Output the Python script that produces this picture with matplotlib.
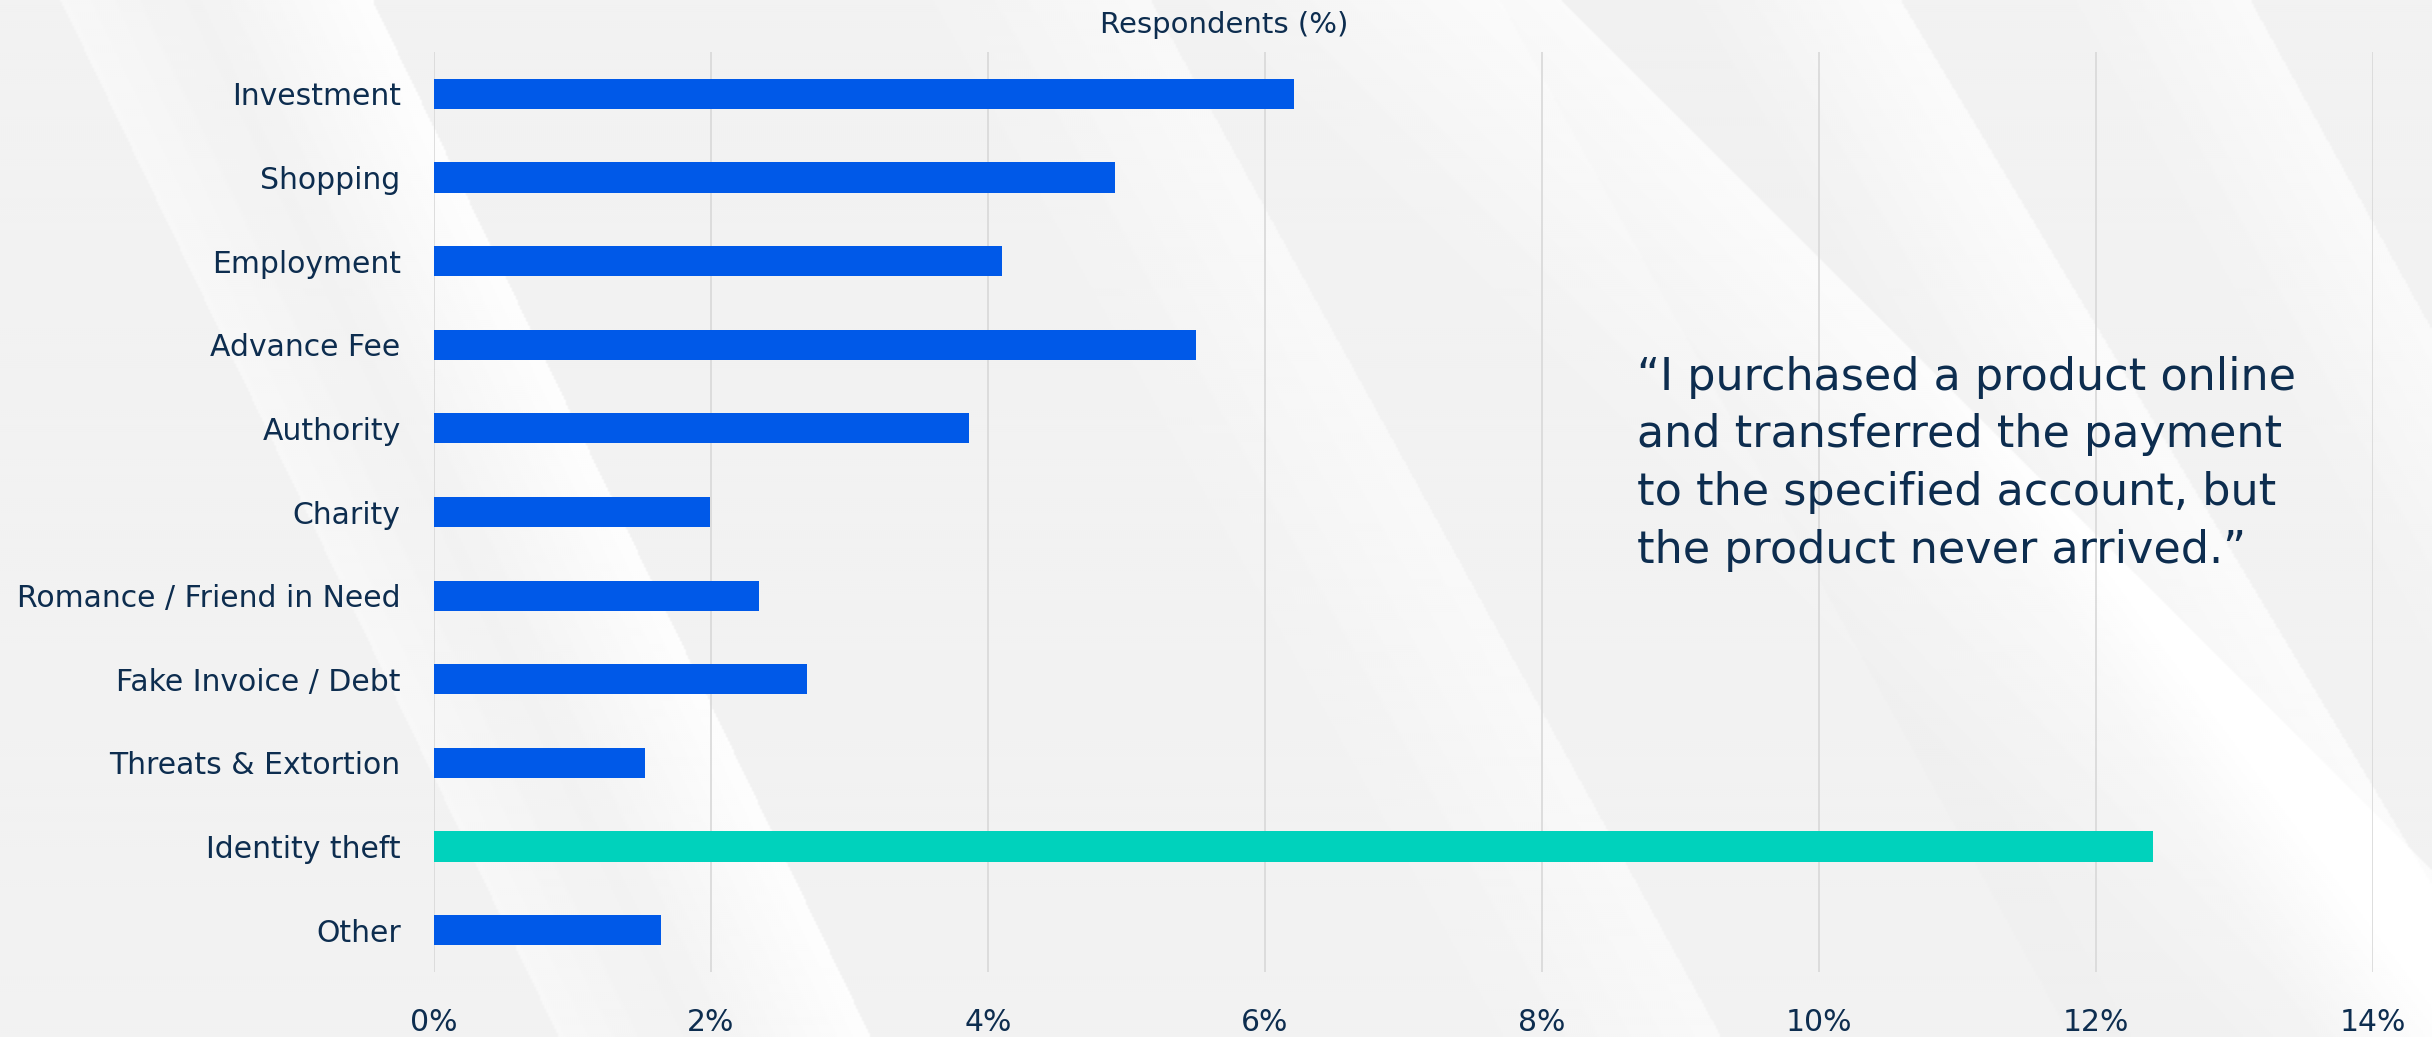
import numpy as np
import matplotlib
matplotlib.use("Agg")
import matplotlib.pyplot as plt
from matplotlib.ticker import FuncFormatter

# Scam categories reported, share of respondents (%)
categories = [
    "Investment", "Shopping", "Employment", "Advance Fee", "Authority",
    "Charity", "Romance / Friend in Need", "Fake Invoice / Debt",
    "Threats & Extortion", "Identity theft", "Other",
]
values = [6.21, 4.92, 4.10, 5.50, 3.86, 1.99, 2.35, 2.69, 1.52, 12.41, 1.64]
highlight = "Identity theft"
x_ticks = [0, 2, 4, 6, 8, 10, 12, 14]

quote_lines = [
    "\u201cI purchased a product online",
    "and transferred the payment",
    "to the specified account, but",
    "the product never arrived.\u201d",
]

TEXT = "#0d2d4f"
BLUE = "#0059e8"
TEAL = "#00d2bc"
GRID = "#d8d8d8"

plt.rcParams["font.family"] = ["DejaVu Sans"]

W, H = 2432, 1037
fig = plt.figure(figsize=(W / 100, H / 100), dpi=100)

# soft grey backdrop with diagonal light streaks
bg = fig.add_axes([0, 0, 1, 1], zorder=0)
bg.set_axis_off()
step = 2
yy, xx = np.mgrid[0:H:step, 0:W:step].astype(float)
img = np.full(xx.shape, 0.948)


def streak(ang_dx, ang_dy, x0, width, amp, sharp_right=True):
    # distance from a line through (x0, 0) heading along (dx, dy)
    d = np.hypot(ang_dx, ang_dy)
    u = ((xx - x0) * ang_dy - yy * ang_dx) / d
    if sharp_right:
        prof = np.where((u <= 0) & (u > -width), 1 + u / width, 0.0)
    else:
        prof = np.where((u >= 0) & (u < width), 1 - u / width, 0.0)
    return amp * prof


img += streak(0.48, 1, 372, 160, 0.045)
img += streak(0.48, 1, 60, 120, 0.022, sharp_right=False)
img += streak(0.55, 1, 1150, 200, 0.028)
img += streak(1.0, 1, 1560, 260, 0.04)
img += streak(0.6, 1, 1900, 180, 0.036)
img += streak(0.55, 1, 2250, 160, 0.032)
img -= streak(0.55, 1, 1500, 300, 0.008, sharp_right=False)
img = np.clip(img, 0, 1)
bg.imshow(img, cmap="gray", vmin=0, vmax=1, extent=[0, W, H, 0],
          aspect="auto", interpolation="bilinear")
bg.set_xlim(0, W)
bg.set_ylim(H, 0)

ax = fig.add_axes([434 / W, 1 - 972 / H, (2373 - 434) / W, (972 - 52) / H], zorder=1)
ax.patch.set_alpha(0)

y = np.arange(len(categories))
colors = [TEAL if c == highlight else BLUE for c in categories]
ax.barh(y, values, height=0.36, color=colors, zorder=3)

ax.set_xlim(0, 14)
ax.set_ylim(len(categories) - 0.5, -0.5)
ax.set_xticks(x_ticks)
ax.xaxis.set_major_formatter(FuncFormatter(lambda v, p: f"{v:.0f}%"))
ax.set_yticks(y)
ax.set_yticklabels(categories)
ax.grid(axis="x", color=GRID, linewidth=1.2, zorder=0)
ax.set_axisbelow(True)
for s in ax.spines.values():
    s.set_visible(False)
ax.tick_params(axis="both", length=0, labelsize=21.5, labelcolor=TEXT)
ax.tick_params(axis="y", pad=24)
ax.tick_params(axis="x", pad=26)

fig.text(1224 / W, 1 - 25 / H, "Respondents (%)", ha="center", va="center",
         fontsize=21, color=TEXT)

baselines = [390, 447, 505, 563]
for line, b in zip(quote_lines, baselines):
    fig.text(1637 / W, 1 - b / H, line, ha="left", va="baseline",
             fontsize=32, color=TEXT)

fig.savefig("out.png", dpi=100)
